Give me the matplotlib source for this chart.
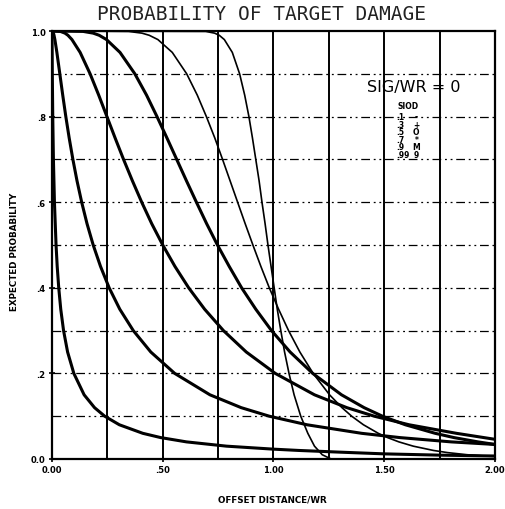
import matplotlib

matplotlib.use("Agg")
import matplotlib.pyplot as plt

# curves (offset distance / WR, expected probability)
a_x = [0, 0.0004, 0.0014, 0.0034, 0.0064, 0.011, 0.0183, 0.0235, 0.0304, 0.0395, 0.0522,
       0.0704, 0.0986, 0.145, 0.192, 0.238, 0.304, 0.41, 0.491, 0.607, 0.788, 1.0, 1.113,
       1.3, 1.5, 1.75, 2.0]
a_y = [1.0, 0.97, 0.9, 0.8, 0.7, 0.6, 0.5, 0.45, 0.4, 0.35, 0.3,
       0.25, 0.2, 0.15, 0.12, 0.1, 0.08, 0.06, 0.05, 0.04, 0.03, 0.023, 0.02,
       0.016, 0.012, 0.009, 0.007]

b_x = [0, 0.0034, 0.0066, 0.0091, 0.013, 0.022, 0.0353, 0.0485, 0.0624, 0.0776, 0.0943,
       0.1129, 0.134, 0.158, 0.186, 0.219, 0.258, 0.306, 0.367, 0.446, 0.554, 0.713, 0.854,
       0.981, 1.151, 1.398, 1.571, 1.802, 2.0]
b_y = [1.0, 0.999, 0.995, 0.99, 0.98, 0.95, 0.9, 0.85, 0.8, 0.75, 0.7,
       0.65, 0.6, 0.55, 0.5, 0.45, 0.4, 0.35, 0.3, 0.25, 0.2, 0.15, 0.12,
       0.1, 0.08, 0.06, 0.05, 0.04, 0.034]

c_x = [0, 0.038, 0.0585, 0.072, 0.09, 0.127, 0.172, 0.211, 0.248, 0.285, 0.323, 0.363,
       0.405, 0.45, 0.5, 0.555, 0.617, 0.689, 0.774, 0.877, 1.008, 1.185, 1.331, 1.455,
       1.612, 1.826, 2.0]
c_y = [1.0, 0.999, 0.995, 0.99, 0.98, 0.95, 0.9, 0.85, 0.8, 0.75, 0.7, 0.65,
       0.6, 0.55, 0.5, 0.45, 0.4, 0.35, 0.3, 0.25, 0.2, 0.15, 0.12, 0.1,
       0.08, 0.06, 0.046]

d_x = [0, 0.141, 0.186, 0.213, 0.246, 0.307, 0.374, 0.427, 0.474, 0.519, 0.563, 0.607,
       0.652, 0.698, 0.747, 0.8, 0.856, 0.92, 0.991, 1.075, 1.177, 1.307, 1.409, 1.492,
       1.595, 1.73, 1.815, 1.923, 2.0]
d_y = [1.0, 0.999, 0.995, 0.99, 0.98, 0.95, 0.9, 0.85, 0.8, 0.75, 0.7, 0.65,
       0.6, 0.55, 0.5, 0.45, 0.4, 0.35, 0.3, 0.25, 0.2, 0.15, 0.12, 0.1,
       0.08, 0.06, 0.05, 0.04, 0.034]

e_x = [0, 0.346, 0.406, 0.439, 0.478, 0.543, 0.608, 0.656, 0.697, 0.735, 0.77, 0.804,
       0.838, 0.872, 0.907, 0.943, 0.981, 1.023, 1.068, 1.119, 1.179, 1.253, 1.309, 1.353,
       1.406, 1.473, 1.515, 1.566, 1.631, 1.722, 1.785, 1.874, 1.952, 2.0]
e_y = [1.0, 0.999, 0.995, 0.99, 0.98, 0.95, 0.9, 0.85, 0.8, 0.75, 0.7, 0.65,
       0.6, 0.55, 0.5, 0.45, 0.4, 0.35, 0.3, 0.25, 0.2, 0.15, 0.12, 0.1,
       0.08, 0.06, 0.05, 0.04, 0.03, 0.02, 0.015, 0.01, 0.007, 0.006]

f_x = [0, 0.694, 0.734, 0.755, 0.778, 0.814, 0.847, 0.87, 0.889, 0.905, 0.92, 0.935,
       0.948, 0.962, 0.975, 0.989, 1.003, 1.017, 1.033, 1.05, 1.07, 1.093, 1.123, 1.155,
       1.185, 1.22, 1.26, 2.0]
f_y = [1.0, 0.999, 0.995, 0.99, 0.98, 0.95, 0.9, 0.85, 0.8, 0.75, 0.7, 0.65,
       0.6, 0.55, 0.5, 0.45, 0.4, 0.35, 0.3, 0.25, 0.2, 0.15, 0.1, 0.06,
       0.03, 0.01, 0.0, 0.0]

siod = [".1", ".3", ".5", ".7", ".9", ".99"]
symbols = ["-", "+", "O", "*", "M", "9"]

x_ticks = [0, 0.5, 1.0, 1.5, 2.0]
x_labels = ["0.00", ".50", "1.00", "1.50", "2.00"]
y_ticks = [0, 0.2, 0.4, 0.6, 0.8, 1.0]
y_labels = ["0.0", ".2", ".4", ".6", ".8", "1.0"]

fig = plt.figure(figsize=(5.06, 5.10), dpi=100)
ax = fig.add_axes([52 / 506, 50 / 510, 443 / 506, 428 / 510])

# grid: solid verticals every .25, dash-dot-dot horizontals every .1
for gx in [0.25, 0.5, 0.75, 1.0, 1.25, 1.5, 1.75]:
    ax.axvline(gx, color="black", lw=1.4, zorder=1)
for gy in [0.1, 0.2, 0.3, 0.4, 0.5, 0.6, 0.7, 0.8, 0.9]:
    ax.axhline(gy, color="black", lw=0.9, dashes=(7, 3, 1.5, 3, 1.5, 3), zorder=1)

thick = dict(color="black", lw=2.2, solid_joinstyle="round", zorder=3)
thin = dict(color="black", lw=1.2, zorder=3)
ax.plot(a_x, a_y, **thick)
ax.plot(b_x, b_y, **thick)
ax.plot(c_x, c_y, **thick)
ax.plot(d_x, d_y, **thick)
ax.plot(e_x, e_y, **thin)
ax.plot(f_x, f_y, **thin)

ax.set_xlim(0, 2.0)
ax.set_ylim(0, 1.0)
ax.set_xticks(x_ticks)
ax.set_xticklabels(x_labels, fontsize=6, fontweight="bold")
ax.set_yticks(y_ticks)
ax.set_yticklabels(y_labels, fontsize=6, fontweight="bold")
ax.tick_params(direction="inout", length=5, width=1.2, pad=2)
for s in ax.spines.values():
    s.set_linewidth(1.6)

# legend block
ax.text(1.42, 0.87, "SIG/WR = 0", fontsize=11.5, family="DejaVu Sans",
        ha="left", va="center", zorder=4)
ax.text(1.56, 0.825, "SIOD", fontsize=5.5, fontweight="bold", ha="left", va="center")
for i, (v, s) in enumerate(zip(siod, symbols)):
    yy = 0.80 - i * 0.0175
    ax.text(1.555, yy, v, fontsize=5.5, fontweight="bold", ha="left", va="center")
    ax.text(1.645, yy, s, fontsize=5.5, fontweight="bold", ha="center", va="center")

fig.text(0.516, 1 - 15 / 510, "PROBABILITY OF TARGET DAMAGE", family="DejaVu Sans Mono",
         fontsize=14, color="#222222", ha="center", va="center")
fig.text(272 / 506, 1 - 500 / 510, "OFFSET DISTANCE/WR", fontsize=6.3, fontweight="bold",
         ha="center", va="center")
fig.text(15 / 506, 1 - 252 / 510, "EXPECTED PROBABILITY", fontsize=6.3, fontweight="bold",
         rotation=90, ha="center", va="center")

fig.savefig("out.png", dpi=100)
